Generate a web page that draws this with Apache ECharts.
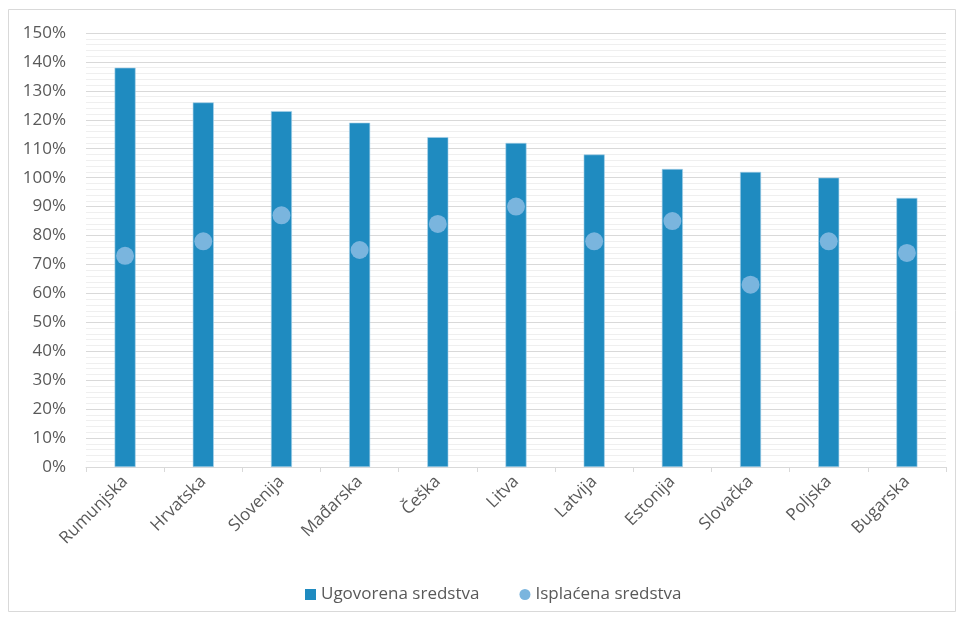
<!DOCTYPE html>
<html>
<head>
<meta charset="utf-8">
<script src="https://cdn.jsdelivr.net/npm/echarts@6/dist/echarts.min.js"></script>
<style>
html,body{margin:0;padding:0;background:#fff;}
#c{width:961px;height:620px;}
</style>
</head>
<body>
<div id="c"></div>
<script>
var categories = ['Rumunjska','Hrvatska','Slovenija','Mađarska','Češka','Litva','Latvija','Estonija','Slovačka','Poljska','Bugarska'];
var ugovorena = [138,126,123,119,114,112,108,103,102,100,93];
var isplacena = [73,78,87,75,84,90,78,85,63,78,74];
var seriesNames = ['Ugovorena sredstva','Isplaćena sredstva'];

var chart = echarts.init(document.getElementById('c'));
var font = 'Open Sans';
chart.setOption({
  animation:false,
  backgroundColor:'#fff',
  graphic:[{type:'rect',shape:{x:8.5,y:9.5,width:947,height:602},style:{fill:'none',stroke:'#d9d9d9',lineWidth:1}}],
  grid:{left:86,right:15,top:33,bottom:153,containLabel:false},
  legend:{
    bottom:12,left:300,itemGap:40,itemWidth:11,itemHeight:11,
    textStyle:{fontFamily:font,fontSize:17,color:'#595959'},
    itemStyle:{borderWidth:0},
    data:[{name:seriesNames[0],icon:'rect'},{name:seriesNames[1],icon:'circle'}]
  },
  xAxis:{
    type:'category',data:categories,
    axisLine:{lineStyle:{color:'#d9d9d9',width:1}},
    axisTick:{show:true,alignWithLabel:false,length:5,lineStyle:{color:'#d9d9d9'}},
    axisLabel:{rotate:45,interval:0,fontFamily:font,fontSize:17,color:'#595959',margin:12}
  },
  yAxis:{
    type:'value',min:0,max:150,interval:10,
    axisLine:{show:false},axisTick:{show:false},
    axisLabel:{formatter:'{value}%',fontFamily:font,fontSize:17,color:'#595959',margin:20},
    splitLine:{lineStyle:{color:'#d9d9d9',width:1}},
    minorTick:{show:false,splitNumber:5},
    minorSplitLine:{show:true,lineStyle:{color:'#efefef',width:1}}
  },
  series:[
    {name:seriesNames[0],type:'bar',data:ugovorena,barWidth:21,
     itemStyle:{color:'#1f8bc0',borderColor:'#a9d2ea',borderWidth:0.6},z:2},
    {name:seriesNames[1],type:'scatter',data:isplacena,symbol:'circle',symbolSize:18,
     itemStyle:{color:'#7ab5de',opacity:1},z:3}
  ]
});
</script>
</body>
</html>
